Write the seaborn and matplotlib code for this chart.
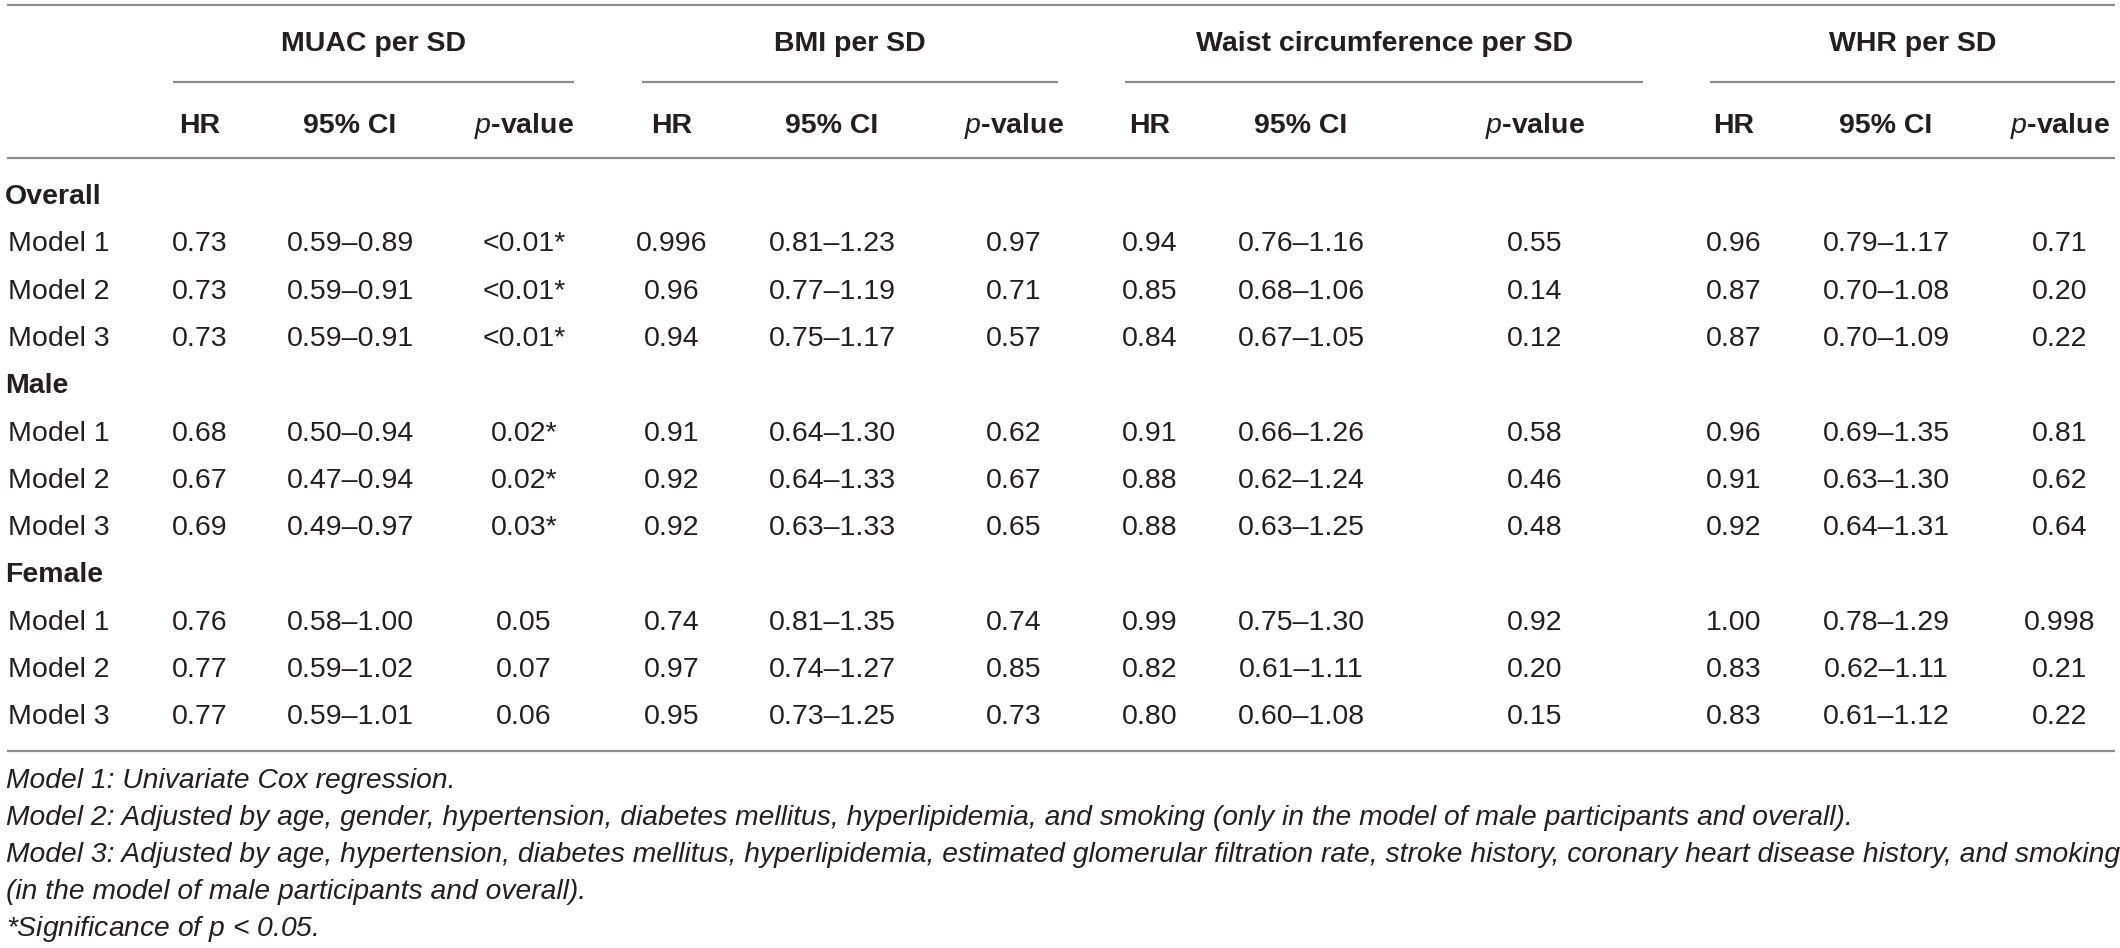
import matplotlib
matplotlib.use("Agg")
import matplotlib.pyplot as plt
import seaborn as sns

# table content
measures = ["MUAC per SD", "BMI per SD", "Waist circumference per SD", "WHR per SD"]
sub_headers = ["HR", "95% CI", "$p$-value"]
groups = ["Overall", "Male", "Female"]
models = ["Model 1", "Model 2", "Model 3"]

muac_hr = ["0.73", "0.73", "0.73", "0.68", "0.67", "0.69", "0.76", "0.77", "0.77"]
muac_ci = ["0.59–0.89", "0.59–0.91", "0.59–0.91", "0.50–0.94", "0.47–0.94", "0.49–0.97", "0.58–1.00", "0.59–1.02", "0.59–1.01"]
muac_p = ["<0.01*", "<0.01*", "<0.01*", "0.02*", "0.02*", "0.03*", "0.05", "0.07", "0.06"]

bmi_hr = ["0.996", "0.96", "0.94", "0.91", "0.92", "0.92", "0.74", "0.97", "0.95"]
bmi_ci = ["0.81–1.23", "0.77–1.19", "0.75–1.17", "0.64–1.30", "0.64–1.33", "0.63–1.33", "0.81–1.35", "0.74–1.27", "0.73–1.25"]
bmi_p = ["0.97", "0.71", "0.57", "0.62", "0.67", "0.65", "0.74", "0.85", "0.73"]

waist_hr = ["0.94", "0.85", "0.84", "0.91", "0.88", "0.88", "0.99", "0.82", "0.80"]
waist_ci = ["0.76–1.16", "0.68–1.06", "0.67–1.05", "0.66–1.26", "0.62–1.24", "0.63–1.25", "0.75–1.30", "0.61–1.11", "0.60–1.08"]
waist_p = ["0.55", "0.14", "0.12", "0.58", "0.46", "0.48", "0.92", "0.20", "0.15"]

whr_hr = ["0.96", "0.87", "0.87", "0.96", "0.91", "0.92", "1.00", "0.83", "0.83"]
whr_ci = ["0.79–1.17", "0.70–1.08", "0.70–1.09", "0.69–1.35", "0.63–1.30", "0.64–1.31", "0.78–1.29", "0.62–1.11", "0.61–1.12"]
whr_p = ["0.71", "0.20", "0.22", "0.81", "0.62", "0.64", "0.998", "0.21", "0.22"]

footnotes = [
    "Model 1: Univariate Cox regression.",
    "Model 2: Adjusted by age, gender, hypertension, diabetes mellitus, hyperlipidemia, and smoking (only in the model of male participants and overall).",
    "Model 3: Adjusted by age, hypertension, diabetes mellitus, hyperlipidemia, estimated glomerular filtration rate, stroke history, coronary heart disease history, and smoking",
    "(in the model of male participants and overall).",
    "*Significance of $p$ < 0.05.",
]

columns = [
    (muac_hr, muac_ci, muac_p),
    (bmi_hr, bmi_ci, bmi_p),
    (waist_hr, waist_ci, waist_p),
    (whr_hr, whr_ci, whr_p),
]

# layout in pixel units
col_x = [(200, 350, 524), (672, 832, 1014), (1150, 1301, 1535), (1734, 1886, 2060)]
span_x = [(173, 574), (642, 1058), (1125, 1643), (1710, 2115)]
row_y0, row_step = 194, 47.3
txt = "#231f20"
rule = "#8c8c8c"

sns.set_theme(style="white")
plt.rcParams["font.family"] = ["Liberation Sans", "DejaVu Sans"]
plt.rcParams["mathtext.fontset"] = "custom"
plt.rcParams["mathtext.it"] = "Liberation Sans:italic:bold"
plt.rcParams["mathtext.rm"] = "Liberation Sans:bold"

fig = plt.figure(figsize=(21.2, 9.48), dpi=100)
ax = fig.add_axes([0, 0, 1, 1])
ax.set_xlim(0, 2120)
ax.set_ylim(948, 0)
ax.axis("off")

fs = 20.5
off = 10  # baseline offset from visual centre

# rules
ax.hlines(5, 7, 2115, color=rule, lw=1.6)
ax.hlines(158, 7, 2115, color=rule, lw=1.6)
ax.hlines(751, 7, 2115, color=rule, lw=1.6)
for (x0, x1), name in zip(span_x, measures):
    ax.hlines(82, x0, x1, color=rule, lw=1.6)
    ax.text((x0 + x1) / 2, 41 + off, name, ha="center", va="baseline",
            fontsize=fs, fontweight="bold", color=txt)

for xs in col_x:
    for x, h in zip(xs, sub_headers):
        ax.text(x, 123 + off, h, ha="center", va="baseline",
                fontsize=fs, fontweight="bold", color=txt)

# body
r = 0
k = 0
for g in groups:
    y = row_y0 + r * row_step
    ax.text(5, y + off, g, ha="left", va="baseline", fontsize=fs,
            fontweight="bold", color=txt)
    r += 1
    for m in models:
        y = row_y0 + r * row_step
        ax.text(8, y + off, m, ha="left", va="baseline", fontsize=fs, color=txt)
        for xs, vals in zip(col_x, columns):
            for x, v in zip(xs, vals):
                ax.text(x, y + off, v[k], ha="center", va="baseline",
                        fontsize=fs, color=txt)
        r += 1
        k += 1

# footnotes
plt.rcParams["mathtext.it"] = "Liberation Sans:italic"
for i, t in enumerate(footnotes):
    y = 778 + i * 37
    ax.text(6, y + 10, t, ha="left", va="baseline", fontsize=20.3,
            style="italic", color=txt)

fig.savefig("out.png", dpi=100, facecolor="white")
